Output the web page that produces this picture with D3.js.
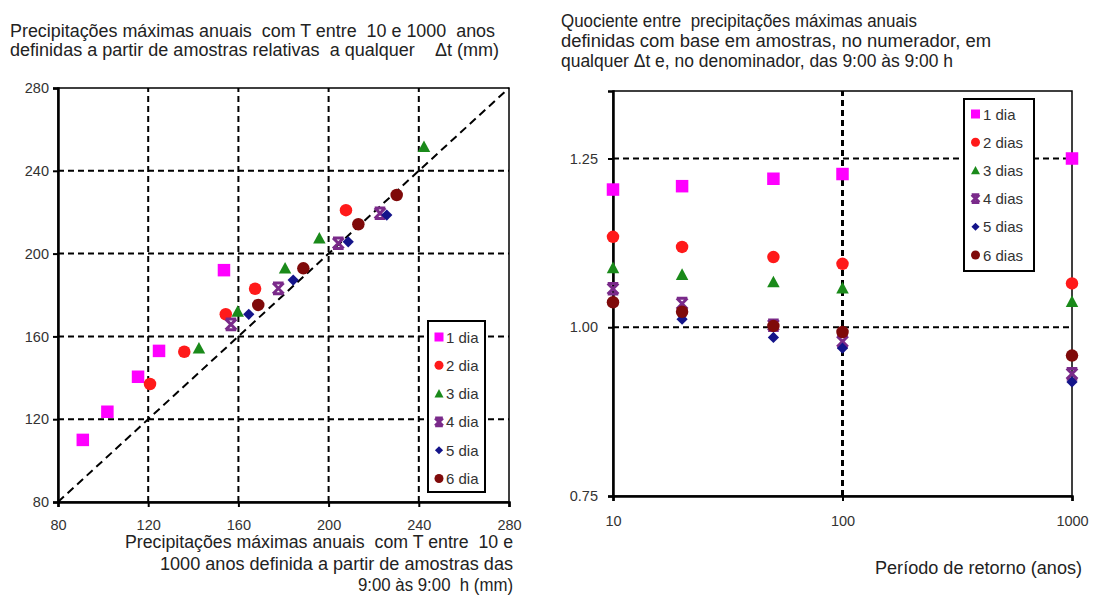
<!DOCTYPE html>
<html>
<head>
<meta charset="utf-8">
<script src="https://cdn.jsdelivr.net/npm/d3@7"></script>
<style>
  body { margin: 0; background: #fff; }
  svg { display: block; font-family: "Liberation Sans", Arial, sans-serif; }
  text { white-space: pre; }
</style>
</head>
<body>
<svg id="chart" width="1093" height="605"></svg>
<script>
// ---- Data ----
const seriesLeft = ["1 dia", "2 dia", "3 dia", "4 dia", "5 dia", "6 dia"];
const seriesRight = ["1 dia", "2 dias", "3 dias", "4 dias", "5 dias", "6 dias"];
const colors = ["#ff00ff", "#ff1a1a", "#1a8a1a", "#7a2a8a", "#14148a", "#7f0a0a"];
const symbols = ["square", "circle", "triangle", "hourglass", "diamond", "circle"];

// Left chart: 9:00–9:00 sample precipitation (x) vs any-Δt precipitation (y), mm
const dia1X = [91, 101.9, 115.5, 124.8, 153.6];
const dia1Y = [110, 123.6, 140.5, 153, 192];
const dia2X = [120.8, 136, 154.4, 167.4, 207.7];
const dia2Y = [137, 152.6, 170.7, 183, 221];
const dia3X = [142.5, 159.7, 180.7, 195.9, 242.3];
const dia3Y = [154.3, 172, 192.9, 207.4, 251.6];
const dia4X = [156.7, 177.7, 204.3, 222.8];
const dia4Y = [165.8, 183.2, 205, 219.5];
const dia5X = [164.6, 184.3, 208.7, 225.8];
const dia5Y = [170.7, 187.2, 205.7, 218.6];
const dia6X = [168.8, 188.8, 213.2, 230.2];
const dia6Y = [175.2, 192.9, 214.2, 228.3];

const leftTicks = [80, 120, 160, 200, 240, 280];

// Right chart: ratio by return period
const returnPeriods = [10, 20, 50, 100, 1000];
const ratio1 = [1.204, 1.209, 1.220, 1.227, 1.250];
const ratio2 = [1.134, 1.119, 1.104, 1.094, 1.065];
const ratio3 = [1.088, 1.078, 1.067, 1.058, 1.038];
const ratio4 = [1.057, 1.035, 1.003, 0.979, 0.931];
const ratio5 = [1.037, 1.012, 0.985, 0.969, 0.919];
const ratio6 = [1.037, 1.023, 1.002, 0.993, 0.958];

const rightYTicks = [0.75, 1.00, 1.25];
const rightXTicks = [10, 100, 1000];

const leftXs = [dia1X, dia2X, dia3X, dia4X, dia5X, dia6X];
const leftYs = [dia1Y, dia2Y, dia3Y, dia4Y, dia5Y, dia6Y];
const ratios = [ratio1, ratio2, ratio3, ratio4, ratio5, ratio6];

const svg = d3.select("#chart");

// ---- Marker helper ----
function marker(g, type, cx, cy, size, color) {
  const s = size / 2;
  if (type === "square") {
    g.append("rect").attr("x", cx - s).attr("y", cy - s).attr("width", size).attr("height", size)
      .attr("fill", color);
  } else if (type === "circle") {
    g.append("circle").attr("cx", cx).attr("cy", cy).attr("r", s).attr("fill", color);
  } else if (type === "triangle") {
    g.append("path").attr("d", `M${cx},${cy - s}L${cx + s},${cy + s * 0.85}L${cx - s},${cy + s * 0.85}Z`)
      .attr("fill", color);
  } else if (type === "diamond") {
    const d = s * 0.9;
    g.append("path").attr("d", `M${cx},${cy - d}L${cx + d},${cy}L${cx},${cy + d}L${cx - d},${cy}Z`)
      .attr("fill", color);
  } else if (type === "hourglass") {
    const d = s * 0.85;
    g.append("path")
      .attr("d", `M${cx - d},${cy - d}L${cx + d},${cy + d}M${cx + d},${cy - d}L${cx - d},${cy + d}` +
                 `M${cx - d},${cy - d}L${cx + d},${cy - d}M${cx - d},${cy + d}L${cx + d},${cy + d}`)
      .attr("stroke", color).attr("stroke-width", 3).attr("fill", "none");
  }
}

// Multi-line text block, each line fitted to its width
function textBlock(x, anchor, lines) {
  const t = svg.append("text").attr("font-size", 17.5).attr("fill", "#222").attr("text-anchor", anchor);
  lines.forEach(l => {
    t.append("tspan").attr("x", l.x !== undefined ? l.x : x).attr("y", l.y)
      .attr("textLength", l.w).attr("lengthAdjust", "spacingAndGlyphs").text(l.s);
  });
  return t;
}

function styleAxis(a) {
  a.select(".domain").attr("stroke", "#000").attr("stroke-width", 2.5);
  a.selectAll(".tick line").attr("stroke", "#000").attr("stroke-width", 2);
  a.selectAll(".tick text").attr("font-size", 14.5).attr("fill", "#333")
    .attr("font-family", "Liberation Sans, Arial, sans-serif");
}

// ================= LEFT CHART =================
const xL = d3.scaleLinear().domain([80, 280]).range([58, 509]);
const yL = d3.scaleLinear().domain([80, 280]).range([502, 88]);
const gL = svg.append("g");

// Grid
gL.selectAll(".vgrid").data(leftTicks.slice(1, -1)).join("line")
  .attr("x1", d => xL(d)).attr("x2", d => xL(d)).attr("y1", yL(80)).attr("y2", yL(280))
  .attr("stroke", "#000").attr("stroke-width", 2).attr("stroke-dasharray", "6,4");
gL.selectAll(".hgrid").data(leftTicks.slice(1, -1)).join("line")
  .attr("x1", xL(80)).attr("x2", xL(280)).attr("y1", d => yL(d)).attr("y2", d => yL(d))
  .attr("stroke", "#000").attr("stroke-width", 2).attr("stroke-dasharray", "6,4");

// 1:1 line
gL.append("line").attr("x1", xL(80)).attr("y1", yL(80)).attr("x2", xL(280)).attr("y2", yL(280))
  .attr("stroke", "#000").attr("stroke-width", 2).attr("stroke-dasharray", "8,5");

// Frame
gL.append("rect").attr("x", xL(80)).attr("y", yL(280)).attr("width", xL(280) - xL(80))
  .attr("height", yL(80) - yL(280)).attr("fill", "none").attr("stroke", "#000").attr("stroke-width", 1.5);

// Axes
const axLx = d3.axisBottom(xL).tickValues(leftTicks).tickSize(5).tickPadding(13);
const axLy = d3.axisLeft(yL).tickValues(leftTicks).tickSize(5).tickPadding(4);
styleAxis(gL.append("g").attr("transform", `translate(0,${yL(80)})`).call(axLx));
styleAxis(gL.append("g").attr("transform", `translate(${xL(80)},0)`).call(axLy));

// Points
seriesLeft.forEach((name, i) => {
  const g = gL.append("g");
  leftXs[i].forEach((xv, j) => marker(g, symbols[i], xL(xv), yL(leftYs[i][j]), 12.5, colors[i]));
});

// Legend
const legL = gL.append("g");
legL.append("rect").attr("x", 428).attr("y", 321).attr("width", 57).attr("height", 171)
  .attr("fill", "#fff").attr("stroke", "#000").attr("stroke-width", 2);
seriesLeft.forEach((name, i) => {
  const y = 337 + i * 28.3;
  marker(legL, symbols[i], 439, y, 9, colors[i]);
  legL.append("text").attr("x", 446).attr("y", y + 5.5).attr("font-size", 15).attr("fill", "#333").text(name);
});

// Titles
textBlock(10, "start", [
  { y: 37, w: 485, s: "Precipitações máximas anuais  com T entre  10 e 1000  anos" },
  { y: 56, w: 489, s: "definidas a partir de amostras relativas  a qualquer    Δt (mm)" }
]);
textBlock(513, "end", [
  { y: 548, w: 388, s: "Precipitações máximas anuais  com T entre  10 e" },
  { y: 570, w: 353, s: "1000 anos definida a partir de amostras das" },
  { y: 591, w: 155, s: "9:00 às 9:00  h (mm)" }
]);

// ================= RIGHT CHART =================
const xR = d3.scaleLog().domain([10, 1000]).range([613, 1072]);
const yR = d3.scaleLinear().domain([0.75, 1.35]).range([496, 91]);
const gR = svg.append("g");

// Grid
gR.selectAll(".hgrid").data(rightYTicks.slice(1)).join("line")
  .attr("x1", xR(10)).attr("x2", xR(1000)).attr("y1", d => yR(d)).attr("y2", d => yR(d))
  .attr("stroke", "#000").attr("stroke-width", 2).attr("stroke-dasharray", "6,4");
gR.append("line").attr("x1", xR(100)).attr("x2", xR(100)).attr("y1", yR(0.75)).attr("y2", yR(1.35))
  .attr("stroke", "#000").attr("stroke-width", 3).attr("stroke-dasharray", "6,4");

// Frame
gR.append("rect").attr("x", xR(10)).attr("y", yR(1.35)).attr("width", xR(1000) - xR(10))
  .attr("height", yR(0.75) - yR(1.35)).attr("fill", "none").attr("stroke", "#000").attr("stroke-width", 1.5);

const axRx = d3.axisBottom(xR).tickValues(rightXTicks).tickFormat(d3.format("d")).tickSize(5).tickPadding(15);
const axRy = d3.axisLeft(yR).tickValues(rightYTicks).tickFormat(d3.format(".2f")).tickSize(5).tickPadding(10);
styleAxis(gR.append("g").attr("transform", `translate(0,${yR(0.75)})`).call(axRx));
styleAxis(gR.append("g").attr("transform", `translate(${xR(10)},0)`).call(axRy));

// Points
seriesRight.forEach((name, i) => {
  const g = gR.append("g");
  returnPeriods.forEach((t, j) => marker(g, symbols[i], xR(t), yR(ratios[i][j]), 12.5, colors[i]));
});

// Legend
const legR = gR.append("g");
legR.append("rect").attr("x", 964).attr("y", 99).attr("width", 70).attr("height", 172)
  .attr("fill", "#fff").attr("stroke", "#000").attr("stroke-width", 2);
seriesRight.forEach((name, i) => {
  const y = 114 + i * 28.2;
  marker(legR, symbols[i], 975.5, y, 9, colors[i]);
  legR.append("text").attr("x", 983).attr("y", y + 5.5).attr("font-size", 15).attr("fill", "#333").text(name);
});

// Titles
textBlock(561, "start", [
  { y: 27, w: 356, s: "Quociente entre  precipitações máximas anuais" },
  { y: 47, w: 430, s: "definidas com base em amostras, no numerador, em" },
  { y: 67, w: 392, s: "qualquer Δt e, no denominador, das 9:00 às 9:00 h" }
]);
textBlock(1082, "end", [
  { y: 574, w: 207, s: "Período de retorno (anos)" }
]);
</script>
</body>
</html>
